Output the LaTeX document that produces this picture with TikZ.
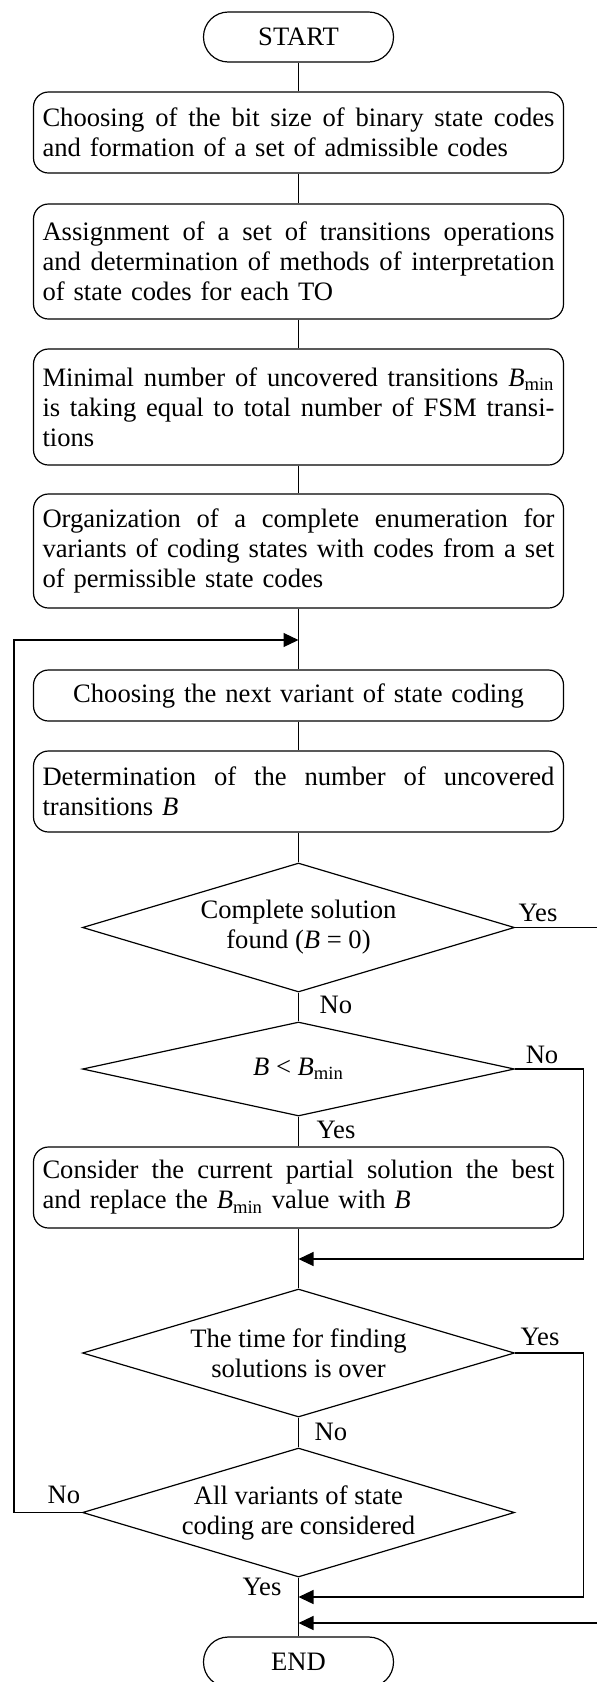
\documentclass[tikz,border=0pt]{standalone}
\usepackage{fontspec}
\setmainfont{Liberation Serif}
\usetikzlibrary{shapes.geometric,arrows.meta}
\newcommand\jl[1]{{\spaceskip=0pt\xspaceskip=0pt\makebox[256pt][s]{#1}}}
\newcommand\Bm{\textit{B}\textsubscript{min}}
\begin{document}
\begin{tikzpicture}[x=0.5pt,y=-0.5pt,
  every node/.style={font=\fontsize{13.3pt}{15pt}\selectfont},
  conn/.style={draw, line width=0.6pt},
  proc/.style={draw, line width=0.6pt, rounded corners=7.5pt, text width=256pt, inner xsep=4.5pt, inner ysep=0pt, align=left, minimum width=265pt},
  term/.style={draw, line width=0.6pt, rounded corners=12.4pt, minimum width=95pt, minimum height=25pt, inner sep=0pt},
  dec/.style={draw, diamond, line width=0.6pt, minimum width=216pt, inner sep=0pt, align=center},
  lbl/.style={inner sep=0pt},
  arr/.style={-{Triangle[length=7.5pt,width=7pt]}}
]
\useasboundingbox (0,0) rectangle (596,1682);

\node[term] (start) at (298.5,37) {START};
\node[proc, minimum height=40.5pt] (b1) at (298.5,132.5)
  {\jl{Choosing of the bit size of binary state codes}\\and formation of a set of admissible codes};
\node[proc, minimum height=57.5pt] (b2) at (298.5,261.5)
  {\jl{Assignment of a set of transitions operations}\\\jl{and determination of methods of interpretation}\\of state codes for each TO};
\node[proc, minimum height=58pt] (b3) at (298.5,407)
  {\jl{Minimal number of uncovered transitions \Bm}\\\jl{is taking equal to total number of FSM transi-}\\tions};
\node[proc, minimum height=57pt] (b4) at (298.5,551)
  {\jl{Organization of a complete enumeration for}\\\jl{variants of coding states with codes from a set}\\of permissible state codes};
\node[proc, minimum height=25.5pt, align=center] (b5) at (298.5,695.5)
  {Choosing the next variant of state coding};
\node[proc, minimum height=40.5pt] (b6) at (298.5,791.5)
  {\jl{Determination of the number of uncovered}\\transitions \textit{B}};
\node[dec, aspect=3.35, minimum height=64.5pt] (d1) at (298.5,927.5)
  {Complete solution\\found (\textit{B} = 0)};
\node[dec, aspect=4.6, minimum height=47pt] (d2) at (298.5,1069)
  {\textit{B} < \Bm};
\node[proc, minimum height=40.5pt] (b7) at (298.5,1187.5)
  {\jl{Consider the current partial solution the best}\\and replace the \Bm{} value with \textit{B}};
\node[dec, aspect=3.35, minimum height=64pt] (d3) at (298.5,1353)
  {The time for finding\\solutions is over};
\node[dec, aspect=3.35, minimum height=64.5pt] (d4) at (298.5,1512.5)
  {All variants of state\\coding are considered};
\node[term] (fin) at (298.5,1662) {END};

\coordinate (j1) at (298.5,640);
\coordinate (j2) at (298.5,1259);
\coordinate (j3) at (298.5,1597);
\coordinate (j4) at (298.5,1623);

\draw[conn] (start) -- (b1);
\draw[conn] (b1) -- (b2);
\draw[conn] (b2) -- (b3);
\draw[conn] (b3) -- (b4);
\draw[conn] (b4) -- (b5);
\draw[conn] (b5) -- (b6);
\draw[conn] (b6) -- (d1);
\draw[conn] (d1) -- (d2);
\draw[conn] (d2) -- (b7);
\draw[conn] (b7) -- (d3);
\draw[conn] (d3) -- (d4);
\draw[conn] (d4) -- (fin);

\draw[conn, arr] (d4.west) -- ++(-68,0) |- (j1);
\draw[conn, arr] (d2.east) -- ++(68,0) |- (j2);
\draw[conn, arr] (d3.east) -- ++(68,0) |- (j3);
\draw[conn, arr] (d1.east) -- ++(90,0) |- (j4);

\node[lbl] (l1) at (538,913) {Yes};
\node[lbl] (l2) at (336,1005) {No};
\node[lbl] (l3) at (542,1055) {No};
\node[lbl] (l4) at (336,1130) {Yes};
\node[lbl] (l5) at (540,1337) {Yes};
\node[lbl] (l6) at (331,1432) {No};
\node[lbl] (l7) at (64,1495) {No};
\node[lbl] (l8) at (262,1587) {Yes};
\end{tikzpicture}
\end{document}
